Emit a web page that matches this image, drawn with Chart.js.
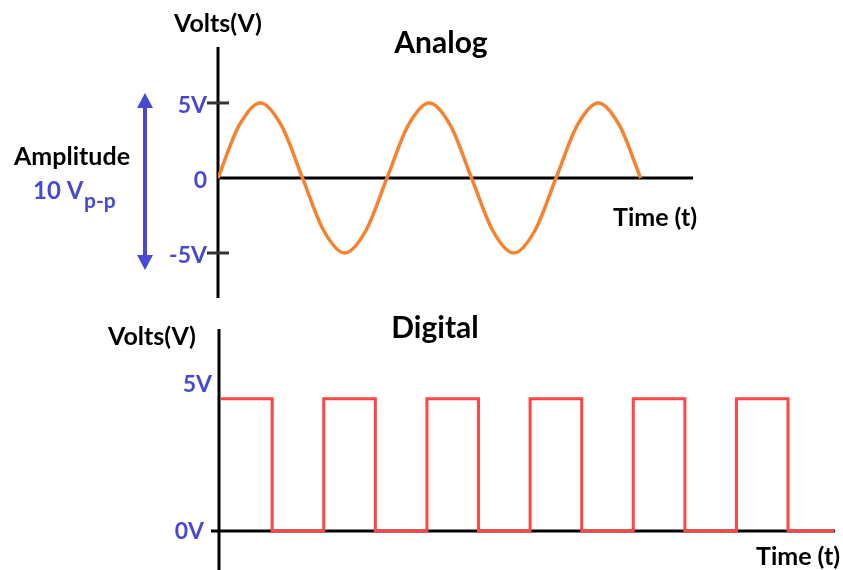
<!DOCTYPE html>
<html>
<head>
<meta charset="utf-8">
<script src="https://cdn.jsdelivr.net/npm/chart.js@4.4.0/dist/chart.umd.min.js"></script>
<style>
  html, body { margin: 0; padding: 0; background: #fff; }
  #wrap { position: relative; width: 843px; height: 570px; overflow: hidden; }
  canvas { position: absolute; left: 0; }
  #analogChart { top: 0; }
  #digitalChart { top: 300px; }
</style>
</head>
<body>
<div id="wrap">
  <canvas id="analogChart" width="843" height="300"></canvas>
  <canvas id="digitalChart" width="843" height="270"></canvas>
</div>
<script>
// analog signal (1 time unit = one period)
var analogTime = [0, 0.125, 0.25, 0.375, 0.5, 0.625, 0.75, 0.875, 1, 1.125, 1.25, 1.375, 1.5, 1.625, 1.75, 1.875, 2, 2.125, 2.25, 2.375, 2.5];
var analogVolts = [0, 3.5, 5, 3.5, 0, -3.5, -5, -3.5, 0, 3.5, 5, 3.5, 0, -3.5, -5, -3.5, 0, 3.5, 5, 3.5, 0];
var analogTicks = [5, 0, -5];
var analogTickLabels = ['5V', '0', '-5V'];

// digital signal (1 time unit = half a period)
var digitalTime = [0, 1, 2, 3, 4, 5, 6, 7, 8, 9, 10, 11, 11.9];
var digitalVolts = [4.5, 0, 4.5, 0, 4.5, 0, 4.5, 0, 4.5, 0, 4.5, 0, 0];
var digitalTicks = [5, 0];
var digitalTickLabels = ['5V', '0V'];

var BLUE = '#4848d4';
var FONT = 'Lato, "Open Sans", sans-serif';

function toPoints(xs, ys) {
    return xs.map(function (x, i) { return { x: x, y: ys[i] }; });
}

function text(ctx, str, x, y, size, color, align) {
    ctx.font = 'bold ' + size + 'px ' + FONT;
    ctx.fillStyle = color;
    ctx.textAlign = align || 'left';
    ctx.textBaseline = 'alphabetic';
    ctx.fillText(str, x, y);
}

var analogDecor = {
    id: 'analogDecor',
    beforeDatasetsDraw: function (chart) {
        var ctx = chart.ctx, area = chart.chartArea;
        var xs = chart.scales.x, ys = chart.scales.y;
        var x0 = xs.getPixelForValue(0), y0 = ys.getPixelForValue(0);
        ctx.save();
        ctx.strokeStyle = '#000';
        ctx.lineWidth = 3;
        ctx.beginPath();
        ctx.moveTo(x0, area.top);
        ctx.lineTo(x0, area.bottom);
        ctx.moveTo(x0, y0);
        ctx.lineTo(area.right, y0);
        ctx.stroke();

        // ticks + labels
        ctx.strokeStyle = '#333';
        analogTicks.forEach(function (v, i) {
            var py = ys.getPixelForValue(v);
            if (v !== 0) {
                ctx.beginPath();
                ctx.moveTo(x0 - 11, py);
                ctx.lineTo(x0 + 11, py);
                ctx.stroke();
            }
            ctx.font = 'bold 23px ' + FONT;
            ctx.fillStyle = BLUE;
            ctx.textAlign = 'right';
            ctx.textBaseline = 'middle';
            ctx.fillText(analogTickLabels[i], x0 - 11, py + 3);
        });

        text(ctx, 'Volts(V)', x0, 32, 25, '#000', 'center');
        text(ctx, 'Analog', 441, 53, 30, '#000', 'center');
        text(ctx, 'Time (t)', 613, 226, 25, '#000', 'left');
        text(ctx, 'Amplitude', 72, 165, 25, '#000', 'center');
        text(ctx, '10 V', 33, 199, 24, BLUE, 'left');
        text(ctx, 'p-p', 84, 208, 21, BLUE, 'left');

        // amplitude arrow
        var ax = 145, top = 93, bot = 270;
        ctx.strokeStyle = BLUE;
        ctx.fillStyle = BLUE;
        ctx.lineWidth = 4;
        ctx.beginPath();
        ctx.moveTo(ax, top + 10);
        ctx.lineTo(ax, bot - 10);
        ctx.stroke();
        ctx.beginPath();
        ctx.moveTo(ax, top);
        ctx.lineTo(ax - 8, top + 15);
        ctx.lineTo(ax + 8, top + 15);
        ctx.closePath();
        ctx.fill();
        ctx.beginPath();
        ctx.moveTo(ax, bot);
        ctx.lineTo(ax - 8, bot - 15);
        ctx.lineTo(ax + 8, bot - 15);
        ctx.closePath();
        ctx.fill();
        ctx.restore();
    }
};

var digitalDecor = {
    id: 'digitalDecor',
    beforeDatasetsDraw: function (chart) {
        var ctx = chart.ctx, area = chart.chartArea;
        var ys = chart.scales.y;
        var x0 = area.left + 1, y0 = ys.getPixelForValue(0);
        ctx.save();
        ctx.strokeStyle = '#000';
        ctx.lineWidth = 3;
        ctx.beginPath();
        ctx.moveTo(x0, area.top);
        ctx.lineTo(x0, area.bottom);
        ctx.moveTo(x0 - 8, y0);
        ctx.lineTo(area.right, y0);
        ctx.stroke();

        digitalTicks.forEach(function (v, i) {
            var py = ys.getPixelForValue(v);
            ctx.font = 'bold 23px ' + FONT;
            ctx.fillStyle = BLUE;
            ctx.textAlign = 'right';
            ctx.textBaseline = 'middle';
            ctx.fillText(digitalTickLabels[i], v === 0 ? x0 - 15 : x0 - 7, py + 1);
        });

        text(ctx, 'Volts(V)', 152, 45, 25, '#000', 'center');
        text(ctx, 'Digital', 435, 38, 30, '#000', 'center');
        text(ctx, 'Time (t)', 756, 265, 25, '#000', 'left');
        ctx.restore();
    }
};

var analogChart = new Chart(document.getElementById('analogChart').getContext('2d'), {
    type: 'line',
    data: {
        datasets: [{
            data: toPoints(analogTime, analogVolts),
            borderColor: '#f7822e',
            borderWidth: 3.5,
            pointRadius: 0,
            cubicInterpolationMode: 'monotone',
            fill: false
        }]
    },
    options: {
        responsive: false,
        animation: false,
        layout: { padding: { left: 218, right: 150, top: 47, bottom: 2 } },
        plugins: { legend: { display: false }, tooltip: { enabled: false } },
        scales: {
            x: { type: 'linear', display: false, min: 0, max: 2.81 },
            y: { type: 'linear', display: false, min: -8.0, max: 8.73 }
        }
    },
    plugins: [analogDecor]
});

var digitalChart = new Chart(document.getElementById('digitalChart').getContext('2d'), {
    type: 'line',
    data: {
        datasets: [{
            data: toPoints(digitalTime, digitalVolts),
            borderColor: '#ff4545',
            borderWidth: 3,
            pointRadius: 0,
            stepped: 'before',
            fill: false
        }]
    },
    options: {
        responsive: false,
        animation: false,
        layout: { padding: { left: 218, right: 8, top: 29, bottom: 0 } },
        plugins: { legend: { display: false }, tooltip: { enabled: false } },
        scales: {
            x: { type: 'linear', display: false, min: -0.05, max: 11.91 },
            y: { type: 'linear', display: false, min: -1.33, max: 6.87 }
        }
    },
    plugins: [digitalDecor]
});
</script>
</body>
</html>
